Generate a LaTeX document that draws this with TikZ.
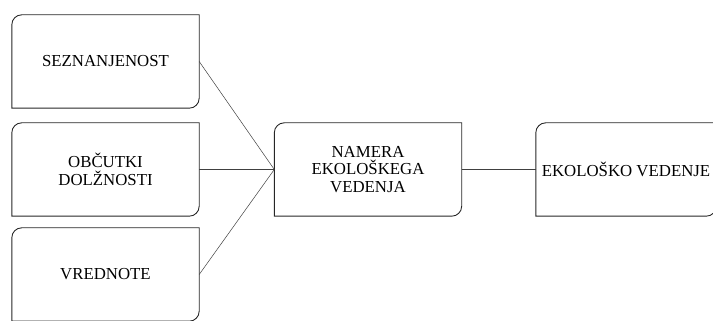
\documentclass[tikz,border=0pt]{standalone}
\usepackage{fontspec}
\setmainfont{Liberation Serif}
\begin{document}
\begin{tikzpicture}[x=1pt,y=1pt]
    \tikzstyle{factor} = [align=center,minimum width=187pt,minimum height=93pt,inner sep=0pt,font=\fontsize{16.8}{17.8}\selectfont]
    \tikzstyle{frame} = [line width=0.9pt,black!85]
    \tikzstyle{link} = [line width=0.5pt,black!75]
    \clip (0,0) rectangle (713,321);
    \node [factor] (sez) at (105.5,259.5) {SEZNANJENOST};
    \node [factor] (obc) at (105.5,151.5) {OBČUTKI\\DOLŽNOSTI};
    \node [factor] (vre) at (105.5,46.5) {VREDNOTE};
    \node [factor] (nam) at (368,151.5) {NAMERA\\EKOLOŠKEGA\\VEDENJA};
    \node [factor,minimum width=180pt] (ved) at (626,151.5) {EKOLOŠKO VEDENJE};
    % boxes: top left and bottom right corners rounded
    \foreach \n in {sez,obc,vre,nam,ved}
      \draw [frame] (\n.north east) -- ([xshift=10pt]\n.north west) arc[start angle=90,end angle=180,radius=10pt]
        -- (\n.south west) -- ([xshift=-10pt]\n.south east) arc[start angle=270,end angle=360,radius=10pt] -- cycle;
    \draw [link] (sez.east) -- (nam.west);
    \draw [link] (obc.east) -- (nam.west);
    \draw [link] (vre.east) -- (nam.west);
    \draw [link] (nam.east) -- (ved.west);
\end{tikzpicture}
\end{document}
